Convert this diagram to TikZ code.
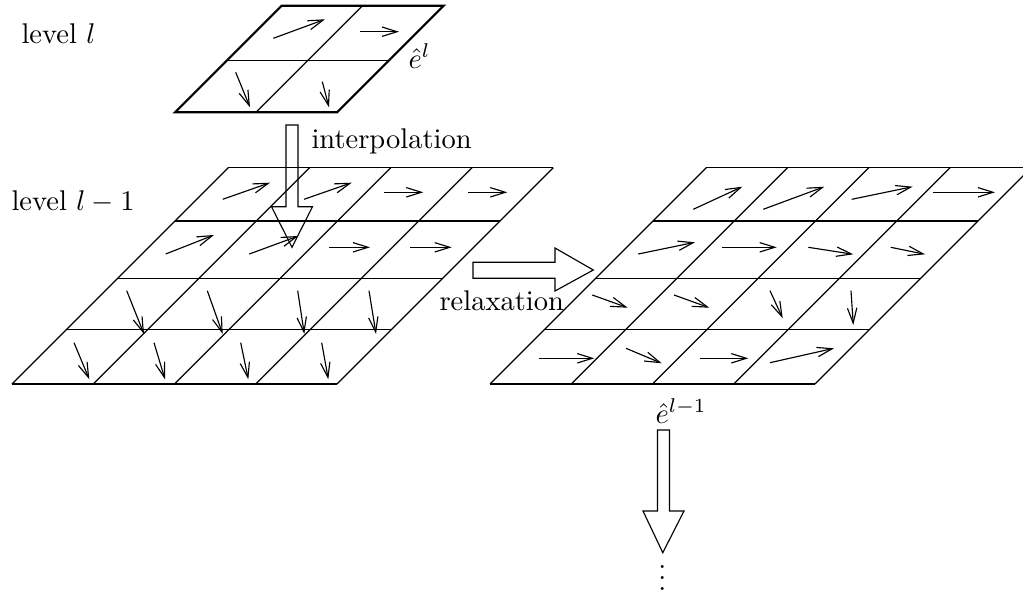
\documentclass[tikz,border=0pt]{standalone}
\usetikzlibrary{arrows.meta}
\tikzset{
  gridline/.style={line width=0.45pt},
  outerline/.style={line width=0.75pt, line join=miter},
  vec/.style={line width=0.4pt, -{Straight Barb[length=5.3pt,width=3.3pt]}},
  hollow/.style={line width=0.4pt, line join=miter},
  lbl/.style={anchor=base west, inner sep=0pt, font=\normalsize},
  lowgrid/.pic={
    \foreach \r in {-216.3,-163,-105.7,-54.7,0}
      \draw[gridline] ({-\r},\r) -- ({325-\r},\r);
    \foreach \c in {0,81.25,162.5,243.75,325}
      \draw[gridline] (\c,0) -- ({\c+216.3},-216.3);
  }
}
\begin{document}
\begin{tikzpicture}[x=0.3509pt,y=-0.3509pt]
\useasboundingbox (0,0) rectangle (1023,594);
\clip (0,0) rectangle (1023,594);

% ---------- top grid (level l) ----------
\draw[gridline] (228.3,60.7) -- (389.3,60.7);
\draw[gridline] (256,112.3) -- (362.6,5.7);
\draw[outerline] (175,112.3) -- (337,112.3) -- (443.6,5.7) -- (281.6,5.7) -- cycle;

\draw[vec] (273.3,38.3) -- (325,19.3);
\draw[vec] (360,31.7) -- (399,31.7);
\draw[vec] (235.7,72.3) -- (250,107.3);
\draw[vec] (322.3,81.7) -- (329,107.3);

% ---------- left grid (level l-1) ----------
\pic at (12,384) {lowgrid};

\draw[vec] (222.7,199.3) -- (270,182.7);
\draw[vec] (304,199.3) -- (351.7,182.7);
\draw[vec] (384.3,192.3) -- (423.3,192.3);
\draw[vec] (468.3,192.3) -- (507.3,192.3);
\draw[vec] (165.7,254) -- (214,235);
\draw[vec] (249.3,254) -- (298.3,236);
\draw[vec] (329,247.3) -- (370,247.3);
\draw[vec] (410,247.3) -- (451.7,247.3);
\draw[vec] (126.7,290.7) -- (144,334);
\draw[vec] (207.3,290.7) -- (222.7,334);
\draw[vec] (297.7,290.7) -- (304.3,334);
\draw[vec] (369,290.7) -- (376,334);
\draw[vec] (74,342.7) -- (89.3,379.3);
\draw[vec] (154,342.7) -- (165,379.3);
\draw[vec] (240.7,342.7) -- (248.3,379.3);
\draw[vec] (321.7,342.7) -- (328.3,379.3);

% ---------- right grid (after relaxation) ----------
\pic at (490,384) {lowgrid};

\draw[vec] (693.3,209.3) -- (742.3,186.7);
\draw[vec] (763.3,209.3) -- (824.3,186.7);
\draw[vec] (851.7,199.3) -- (912.7,186.7);
\draw[vec] (932.7,192.3) -- (995,192.3);
\draw[vec] (638.3,254) -- (695,242.3);
\draw[vec] (721.7,247.3) -- (776.7,247.3);
\draw[vec] (808.3,247.3) -- (853.3,254.3);
\draw[vec] (890.7,247.3) -- (925,254.3);
\draw[vec] (592.3,295) -- (627.7,307.7);
\draw[vec] (674,295) -- (709.3,307.7);
\draw[vec] (770,290.7) -- (782.7,318.3);
\draw[vec] (851,290.7) -- (853.3,325);
\draw[vec] (539.3,358.3) -- (594.3,358.3);
\draw[vec] (626,348.3) -- (661.7,363.3);
\draw[vec] (700,358.3) -- (748.3,358.3);
\draw[vec] (770,362.7) -- (834,348.3);

% ---------- hollow arrows ----------
% interpolation (down)
\draw[hollow] (286,125) -- (298,125) -- (298,206.7) -- (312.5,206.7) -- (292,247.3)
  -- (271.5,206.7) -- (286,206.7) -- cycle;
% relaxation (right)
\draw[hollow] (473,262.3) -- (555,262.3) -- (555,248) -- (593.3,270) -- (555,291)
  -- (555,278.3) -- (473,278.3) -- cycle;
% to next level (down)
\draw[hollow] (657.5,430) -- (669.5,430) -- (669.5,511) -- (684,511) -- (662.8,552.7)
  -- (643,511) -- (657.5,511) -- cycle;

% ---------- labels ----------
\node[lbl] (lvl) at (21,44) {level $l$};
\node[lbl] (lvlm) at (11,210) {level $l-1$};
\node[lbl] (interp) at (311,148.8) {interpolation};
\node[lbl] (relax) at (439,310) {relaxation};
\node[lbl] (el) at (408,68) {$\hat e^{l}$};
\node[lbl] (elm) at (655,423) {$\hat e^{l-1}$};
\node[anchor=base, inner sep=0pt] (dots) at (662.3,590.8) {$\vdots$};
\end{tikzpicture}
\end{document}
